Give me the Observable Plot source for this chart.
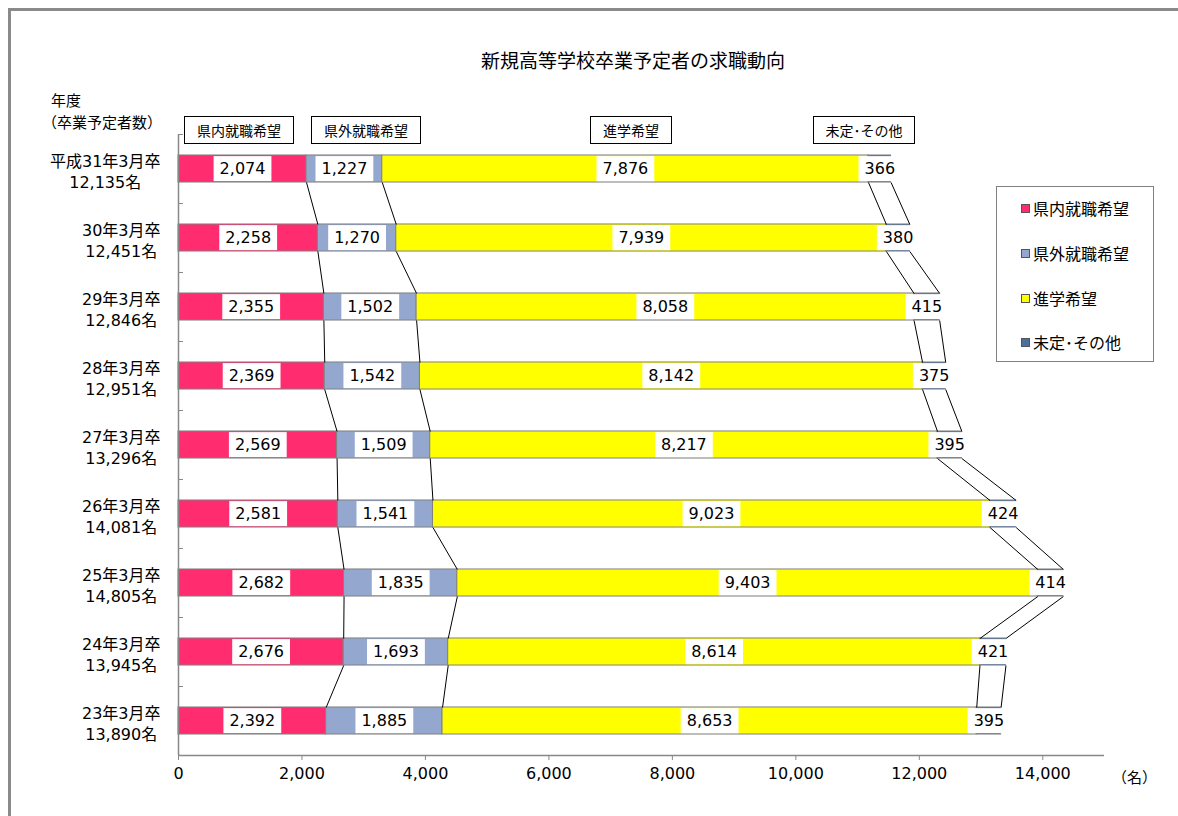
<!DOCTYPE html>
<html><head><meta charset="utf-8">
<script src="https://cdn.jsdelivr.net/npm/d3@7"></script>
<script src="https://cdn.jsdelivr.net/npm/@observablehq/plot@0.6"></script>
<style>
html,body{margin:0;padding:0;background:#fff;overflow:hidden;}
#wrap{position:relative;width:1178px;height:816px;overflow:hidden;font-family:"Noto Sans CJK JP",sans-serif;color:#000;background:#fff;}
#chart{position:absolute;left:0;top:0;}
#frame{position:absolute;left:8px;top:8px;width:1300px;height:1000px;border-left:3px solid #8a8a8a;border-top:3px solid #8a8a8a;pointer-events:none;}
.ann{position:absolute;white-space:nowrap;line-height:1;}
.hbox{position:absolute;box-sizing:border-box;border:1px solid #000;background:#fff;font-size:14px;height:28px;display:flex;align-items:center;justify-content:center;white-space:nowrap;}
#legend{position:absolute;left:996px;top:186px;width:158px;height:176px;box-sizing:border-box;border:1px solid #808080;background:#fff;}
.li{position:absolute;left:24px;display:flex;align-items:center;font-size:16px;line-height:1;}
.sw{width:7px;height:7px;border:1px solid #555;margin-right:3px;}
</style>
</head><body>
<div id="wrap">
  <div id="chart"></div>
  <div id="frame"></div>
  <div class="ann" style="left:433px;width:400px;text-align:center;top:50px;font-size:19px;">新規高等学校卒業予定者の求職動向</div>
  <div class="ann" style="left:51px;top:92px;font-size:15px;">年度</div>
  <div class="ann" style="left:42px;top:114px;font-size:15px;">（卒業予定者数）</div>
  <div class="ann" style="left:1112px;top:769px;font-size:15px;">（名）</div>
  <div id="headers"></div>
  <div id="legend"></div>
</div>
<script>
const years = ["平成31年3月卒","30年3月卒","29年3月卒","28年3月卒","27年3月卒","26年3月卒","25年3月卒","24年3月卒","23年3月卒"];
const totals = ["12,135名","12,451名","12,846名","12,951名","13,296名","14,081名","14,805名","13,945名","13,890名"];
const series = ["県内就職希望","県外就職希望","進学希望","未定･その他"];
const kennai   = [2074, 2258, 2355, 2369, 2569, 2581, 2682, 2676, 2392];
const kengai   = [1227, 1270, 1502, 1542, 1509, 1541, 1835, 1693, 1885];
const shingaku = [7876, 7939, 8058, 8142, 8217, 9023, 9403, 8614, 8653];
const mitei    = [366, 380, 415, 375, 395, 424, 414, 421, 395];
const colors = ["#FF2C6F", "#94A8CF", "#FFFF00", "#4A70A0"];
const xTicks = [0, 2000, 4000, 6000, 8000, 10000, 12000, 14000];

const valuesBySeries = [kennai, kengai, shingaku, mitei];
const half = 0.196;
const segs = [];
years.forEach((yr, i) => {
  let acc = 0;
  valuesBySeries.forEach((vals, s) => {
    const v = vals[i];
    segs.push({i, s: series[s], value: v, x1: acc, x2: acc + v});
    acc += v;
  });
});
const segEnd = (i, s) => segs.find(d => d.i === i && d.s === series[s]).x2;
const links = [];
for (let s = 0; s < series.length; s++) {
  for (let i = 0; i < years.length - 1; i++) {
    links.push({x1: segEnd(i, s), y1: i + half, x2: segEnd(i + 1, s), y2: i + 1 - half});
  }
}
const fmt = d3.format(",");
const numFont = "DejaVu Sans, Noto Sans CJK JP, sans-serif";

const plot = Plot.plot({
  width: 1178, height: 816,
  marginLeft: 178, marginRight: 74, marginTop: 134, marginBottom: 61,
  x: {domain: [0, 15000]},
  y: {domain: [-0.5, 8.5], reverse: true},
  color: {domain: series, range: colors},
  style: {fontFamily: numFont, fontSize: "16px", color: "#000", background: "transparent", overflow: "visible"},
  marks: [
    Plot.rect(segs, {x1: "x1", x2: "x2", y1: d => d.i - half, y2: d => d.i + half, fill: "s", stroke: "#808080", strokeWidth: 1}),
    Plot.link(links, {x1: "x1", y1: "y1", x2: "x2", y2: "y2", stroke: "#000", strokeWidth: 1}),
    Plot.text(segs, {x: d => (d.x1 + d.x2) / 2, y: "i", text: d => fmt(d.value), fontSize: 16, fontFamily: numFont, fill: "#000"}),
    Plot.ruleX([0], {y1: -0.5, y2: 8.5, stroke: "#888", strokeWidth: 1.5}),
    Plot.ruleY([8.5], {x1: 0, x2: 15000, stroke: "#888", strokeWidth: 1.5}),
    Plot.axisY({ticks: d3.range(-0.5, 8, 1), tickSize: 5, dx: 5, tickFormat: () => "", stroke: "#888"}),
    Plot.axisY({ticks: d3.range(0, 9), tickSize: 0, tickPadding: 18, tickFormat: i => years[i] + "\n" + totals[i], fontSize: 16, lineHeight: 1.3, dy: 2, fill: "#000"}),
    Plot.axisX({ticks: xTicks, tickSize: 5, tickPadding: 7, tickFormat: fmt, fontSize: 16, stroke: "#888", fill: "#000"})
  ]
});
document.getElementById("chart").appendChild(plot);

// white boxes behind value labels
d3.select(plot).selectAll('g[aria-label="text"] text').each(function() {
  const bb = this.getBBox();
  const cy = bb.y + bb.height / 2;
  const r = document.createElementNS("http://www.w3.org/2000/svg", "rect");
  r.setAttribute("x", bb.x - 6);
  r.setAttribute("y", cy - 12.5);
  r.setAttribute("width", bb.width + 12);
  r.setAttribute("height", 25);
  r.setAttribute("fill", "#fff");
  r.setAttribute("stroke", "none");
  const tr = this.getAttribute("transform");
  if (tr) r.setAttribute("transform", tr);
  this.parentNode.insertBefore(r, this);
});
// center the two lines of each category label
d3.select(plot).selectAll('g[aria-label="y-axis tick label"] text').each(function() {
  const spans = Array.from(this.querySelectorAll("tspan"));
  if (spans.length < 2) return;
  const w = spans.map(t => t.getComputedTextLength());
  const m = Math.max(...w);
  spans.forEach((t, k) => t.setAttribute("dx", -(m - w[k]) / 2));
});

// header boxes above the bars
const headers = [
  {t: series[0], l: 184, w: 110},
  {t: series[1], l: 311, w: 110},
  {t: series[2], l: 590, w: 82},
  {t: series[3], l: 813, w: 102}
];
const hd = document.getElementById("headers");
headers.forEach(h => {
  const d = document.createElement("div");
  d.className = "hbox";
  d.style.left = h.l + "px"; d.style.top = "116px"; d.style.width = h.w + "px";
  d.textContent = h.t;
  hd.appendChild(d);
});
// legend
const lg = document.getElementById("legend");
const ly = [21, 66, 111, 155];
series.forEach((s, k) => {
  const d = document.createElement("div");
  d.className = "li";
  d.style.top = (ly[k] - 8) + "px";
  d.innerHTML = `<span class="sw" style="background:${colors[k]}"></span><span>${s}</span>`;
  lg.appendChild(d);
});
</script>
</body></html>
